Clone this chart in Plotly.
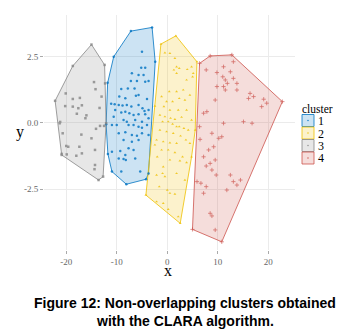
import plotly.graph_objects as go

# ---------------- data ----------------
c1_x = [-5.0, -5.15, -4.36, -7.0, -5.68, -4.69, -7.2, -6.0, -4.36, -3.7, -9.1, -7.8, -6.47, -5.68, -6.2,
        -9.5, -8.3, -4.0, -11.1, -10.4, -9.6, -8.85, -8.0, -7.1, -5.68, -4.9, -4.5, -3.7, -10.3, -9.1,
        -8.3, -7.5, -6.67, -5.68, -4.36, -10.6, -8.65, -8.0, -6.34, -5.0, -3.7, -12.1, -10.95, -10.0,
        -7.66, -6.67, -5.68, -5.0, -4.0, -9.6, -8.3, -7.0, -6.0, -5.0, -3.7, -8.65, -7.0, -5.68, -10.95,
        -9.3, -7.66, -6.67, -8.3, -9.6, -8.65, -8.2, -6.34, -10.95, -9.1, -5.35, -3.7,
        -7.2, -3.0, -2.38, -11.8, -11.75, -8.1, -4.2, -10.6]
c1_y = [2.70, 2.09, 2.09, 1.88, 1.82, 1.82, 1.59, 1.59, 1.56, 1.59, 1.29, 1.31, 1.31, 1.06, 1.03,
        1.0, 0.94, 0.91, 0.73, 0.71, 0.68, 0.66, 0.68, 0.62, 0.68, 0.56, 0.45, 0.49, 0.49, 0.40,
        0.43, 0.37, 0.30, 0.33, 0.33, 0.24, 0.11, 0.05, 0.11, 0.05, 0.18, -0.05, -0.08, -0.08,
        -0.08, -0.08, -0.14, -0.18, -0.08, -0.39, -0.35, -0.45, -0.48, -0.39, -0.45, -0.64, -0.71, -0.64, -1.09,
        -1.06, -0.96, -1.02, -1.21, -1.34, -1.36, -1.40, -1.34, -1.84, -1.84, -1.84, -1.91,
        3.48, 3.62, 2.32, 1.52, -1.17, -2.32, -2.13, 2.51]

c2_x = [-0.46, 0.53, 1.52, 1.85, 2.38, 1.32, 1.85, 3.96, 4.82, 5.15, 5.02, 3.83, 0.40, 1.85, 3.17,
        -1.12, -0.13, 1.06, 2.38, 3.5, 4.49, -0.66, -2.44, 0.53, 2.18, 3.83, -1.45, -0.46, 0.66, 1.52,
        2.84, 4.82, -0.92, 0.2, 1.06, 1.85, 2.38, 3.3, 4.16, -1.45, -0.13, 1.19, 2.64, 3.7, -2.11,
        -0.79, 0.53, 1.85, 4.49, -2.44, -1.12, 0.2, 1.52, 3.03, 4.82, -1.98, 0.53, 2.51, 3.83, -0.79,
        -2.11, -0.92, -0.46, 1.85, 3.5, -1.58, 0.0, 0.53, 1.52, -0.79, 0.2, 2.18,
        1.72, -1.25, 5.88, 5.54, 2.57, -4.22, -2.11]
c2_y = [2.66, 2.64, 2.45, 2.13, 2.07, 2.01, 1.88, 2.03, 2.13, 1.88, 1.75, 1.63, 1.19, 1.19, 1.25,
        1.0, 0.81, 0.81, 0.93, 0.87, 1.06, 0.62, 0.64, 0.49, 0.49, 0.49, 0.30, 0.24, 0.18, 0.14,
        0.22, 0.11, 0.05, 0.05, -0.04, -0.14, -0.14, -0.2, -0.27, -0.27, -0.33, -0.39, -0.49, -0.64, -0.64,
        -0.71, -0.75, -0.77, -0.77, -0.83, -1.02, -1.02, -1.12, -1.28, -1.28, -1.28, -1.40, -1.43, -1.50, -1.66,
        -1.97, -1.91, -2.03, -1.91, -2.16, -2.41, -2.54, -2.66, -2.69, -3.04, -3.27, -3.55,
        3.30, 2.99, 2.32, -0.27, -3.80, -2.73, -2.98]

c3_x = [-14.5, -14.2, -12.3, -13.0, -20.1, -18.7, -17.3, -16.9, -20.2, -18.7, -17.6, -17.9, -16.0, -16.2,
        -13.4, -21.2, -14.1, -13.3, -12.5, -20.7, -17.0, -15.0, -20.0, -19.6, -17.4, -14.3, -16.9, -20.9,
        -19.9, -18.0, -14.3, -14.4,
        -15.0, -12.4, -18.7, -22.2, -21.3, -20.9, -13.6, -12.7, -12.1]
c3_y = [1.55, 1.28, 1.5, 1.0, 1.12, 0.91, 0.95, 0.67, 0.64, 0.62, 0.56, 0.35, 0.29, 0.18,
        0.57, 0.04, -0.22, -0.11, -0.11, -0.39, -0.44, -0.58, -0.87, -0.9, -0.9, -1.02, -1.15, -1.17,
        -1.19, -1.24, -1.59, -1.75,
        2.97, 2.2, 2.16, 0.84, -0.01, -1.21, -2.16, -2.03, -0.01]

c4_x = [11.15, 13.1, 7.72, 9.84, 12.5, 11.0, 11.5, 13.1, 13.8, 11.9, 9.84, 11.15, 13.8, 16.4, 16.1,
        17.1, 19.1, 19.7, 18.7, 9.5, 7.85, 7.2, 15.1, 16.8, 11.15, 6.4, 8.85, 10.8, 10.2, 6.5, 8.2,
        9.2, 7.2, 8.5, 9.5, 7.72, 8.85, 9.7, 5.9, 6.67, 7.72, 13.1, 14.5, 11.8, 13.8, 7.2, 8.5, 8.85,
        9.5, 12.5, 11.5,
        6.4, 8.5, 12.8, 22.8, 10.8, 5.0]
c4_y = [2.13, 2.32, 2.01, 1.91, 1.94, 1.75, 1.63, 1.69, 1.50, 1.50, 1.38, 1.38, 1.25, 1.12, 0.93,
        1.0, 0.9, 0.75, 0.62, 0.87, 0.43, 0.37, 0.05, -0.01, -0.01, -0.14, -0.39, -0.52, -0.58, -0.62, -1.02,
        -0.90, -1.28, -1.53, -1.40, -1.63, -1.78, -1.97, -2.22, -2.28, -2.41, -2.22, -2.16, -2.54, -2.35, -2.66,
        -3.42, -3.52, -4.05, -1.97, 1.25,
        2.26, 2.54, 2.58, 0.81, -4.5, -4.03]

cluster_names = ["1", "2", "3", "4"]
cluster_xs = [c1_x, c2_x, c3_x, c4_x]
cluster_ys = [c1_y, c2_y, c3_y, c4_y]

x_ticks = [-20, -10, 0, 10, 20]
y_ticks = [-2.5, 0.0, 2.5]
y_tick_labels = ["-2.5", "0.0", "2.5"]

legend_title = "cluster"
caption_lines = ["Figure 12: Non-overlapping clusters obtained", "with the CLARA algorithm."]

# ---------------- styles ----------------
line_cols = ["#0073C2", "#EFC000", "#868686", "#CD534C"]
fill_cols = ["rgba(0,115,194,0.2)", "rgba(239,192,0,0.2)", "rgba(134,134,134,0.2)", "rgba(205,83,76,0.2)"]
symbols = ["circle", "triangle-up", "square", "cross-thin"]
SERIF = "Liberation Serif"

W, H = 349, 333
L, R, T, B = 44, 54, 15, 83
PW, PH = W - L - R, H - T - B


def px2paper(px, py):
    return (px - L) / PW, (H - B - py) / PH


def hull(xs, ys):
    pts = sorted(set(zip(xs, ys)))

    def cross(o, a, b):
        return (a[0] - o[0]) * (b[1] - o[1]) - (a[1] - o[1]) * (b[0] - o[0])

    lower, upper = [], []
    for p in pts:
        while len(lower) >= 2 and cross(lower[-2], lower[-1], p) <= 0:
            lower.pop()
        lower.append(p)
    for p in reversed(pts):
        while len(upper) >= 2 and cross(upper[-2], upper[-1], p) <= 0:
            upper.pop()
        upper.append(p)
    h = lower[:-1] + upper[:-1]
    h.append(h[0])
    return [p[0] for p in h], [p[1] for p in h]


fig = go.Figure()
for i, name in enumerate(cluster_names):
    hx, hy = hull(cluster_xs[i], cluster_ys[i])
    fig.add_trace(go.Scatter(
        x=hx, y=hy, mode="lines", fill="toself", fillcolor=fill_cols[i],
        line=dict(color=line_cols[i], width=0.8), name=name, showlegend=False,
        hoverinfo="skip"))
for i, name in enumerate(cluster_names):
    cross_sym = symbols[i] == "cross-thin"
    fig.add_trace(go.Scatter(
        x=cluster_xs[i], y=cluster_ys[i], mode="markers", name=name, showlegend=False,
        opacity=0.8,
        marker=dict(color=line_cols[i], size=3 if cross_sym else 2.5,
                    symbol=symbols[i],
                    line=dict(color=line_cols[i], width=0.8 if cross_sym else 0))))

axis_common = dict(showgrid=True, gridcolor="#ebebeb", gridwidth=1, zeroline=False,
                   showline=False, ticks="outside", ticklen=3, tickcolor="#aaaaaa",
                   automargin=False,
                   tickfont=dict(family=SERIF, size=9, color="#666666"))

fig.update_xaxes(range=[-24.4, 25.3], tickvals=x_ticks, ticktext=[str(v) for v in x_ticks],
                 **axis_common)
fig.update_yaxes(range=[-4.81, 4.09], tickvals=y_ticks, ticktext=y_tick_labels,
                 **axis_common)

annotations = []
shapes = []

# axis titles
ax, ay = px2paper(168, 270)
annotations.append(dict(text="x", xref="paper", yref="paper", x=ax, y=ay, showarrow=False,
                        xanchor="center", yanchor="middle",
                        font=dict(family=SERIF, size=16, color="#000000")))
ax, ay = px2paper(20, 132)
annotations.append(dict(text="y", xref="paper", yref="paper", x=ax, y=ay, showarrow=False,
                        xanchor="center", yanchor="middle",
                        font=dict(family=SERIF, size=16, color="#000000")))

# legend (drawn by hand to match the ggplot key)
ax, ay = px2paper(300, 109)
annotations.append(dict(text=legend_title, xref="paper", yref="paper", x=ax, y=ay, showarrow=False,
                        xanchor="left", yanchor="middle",
                        font=dict(family=SERIF, size=11.5, color="#000000")))
for i, name in enumerate(cluster_names):
    top = 114.5 + 12.5 * i
    x0, y0 = px2paper(302, top)
    x1, y1 = px2paper(314, top + 12)
    shapes.append(dict(type="rect", xref="paper", yref="paper", x0=x0, y0=y1, x1=x1, y1=y0,
                       fillcolor=fill_cols[i], line=dict(color=line_cols[i], width=0.8)))
    cx0, cy0 = px2paper(307.3, top + 5.3)
    cx1, cy1 = px2paper(308.7, top + 6.7)
    shapes.append(dict(type="circle", xref="paper", yref="paper", x0=cx0, y0=cy1, x1=cx1, y1=cy0,
                       fillcolor=line_cols[i], line=dict(width=0)))
    tx, ty = px2paper(316, top + 6.5)
    annotations.append(dict(text=name, xref="paper", yref="paper", x=tx, y=ty, showarrow=False,
                            xanchor="left", yanchor="middle",
                            font=dict(family=SERIF, size=12, color="#000000")))

# caption
for line, py in zip(caption_lines, [303, 321]):
    cx, cy = px2paper(185, py)
    annotations.append(dict(text="<b>" + line + "</b>", xref="paper", yref="paper", x=cx, y=cy,
                            showarrow=False, xanchor="center", yanchor="middle",
                            font=dict(family="Liberation Sans", size=14, color="#000000")))

fig.update_layout(
    width=W, height=H,
    margin=dict(l=L, r=R, t=T, b=B, autoexpand=False),
    plot_bgcolor="white", paper_bgcolor="white",
    showlegend=False,
    annotations=annotations,
    shapes=shapes,
)

fig.write_html("out.html", config={"displayModeBar": False},
               post_script="document.body.style.margin='0px';document.body.style.overflow='hidden';")
